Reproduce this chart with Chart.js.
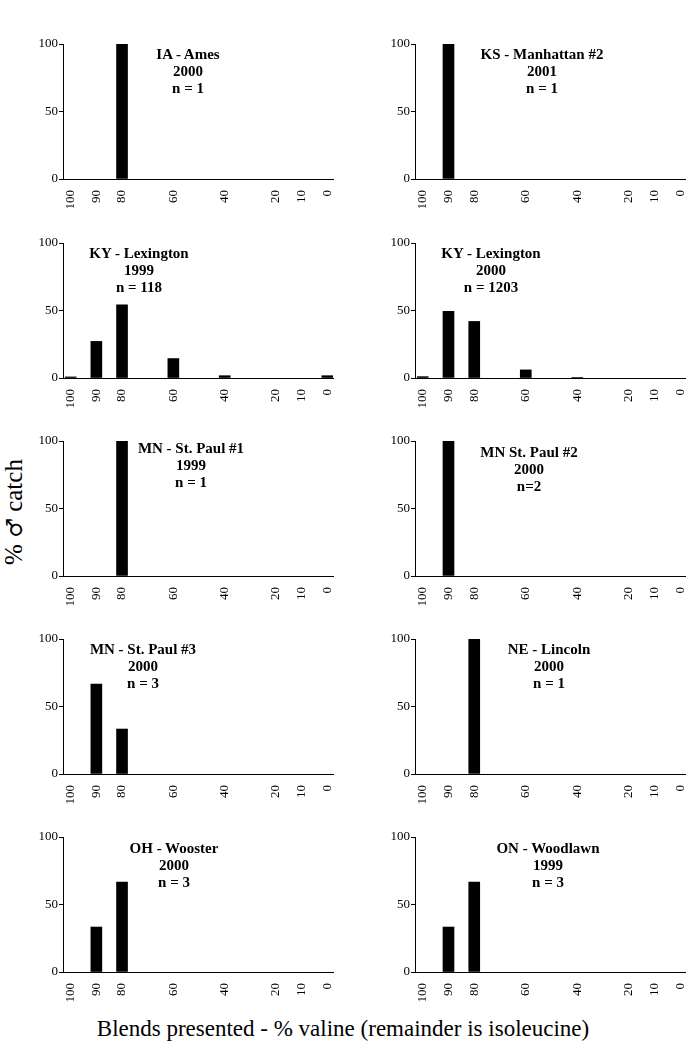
<!DOCTYPE html>
<html><head><meta charset="utf-8">
<script src="https://cdn.jsdelivr.net/npm/chart.js@4/dist/chart.umd.min.js"></script>
<style>
html,body{margin:0;padding:0;background:#fff;}
#page{position:relative;width:686px;height:1042px;overflow:hidden;font-family:"Liberation Serif","Times New Roman",serif;color:#000;}
canvas{position:absolute;}
.ttl{position:absolute;width:220px;margin-left:-110px;text-align:center;font-weight:bold;font-size:15px;line-height:17px;white-space:nowrap;}
#ytitle{position:absolute;left:14px;top:512px;transform:translate(-50%,-50%) rotate(-90deg);font-size:25px;white-space:nowrap;}
#ytitle .sym{font-family:"DejaVu Serif",serif;font-size:22px;}
#xtitle{position:absolute;left:343px;top:1029px;transform:translate(-50%,-50%);font-size:23px;white-space:nowrap;}
</style>
</head><body>
<div id="page">
  <div id="ytitle">% <span class="sym">♂</span> catch</div>
  <div id="xtitle">Blends presented - % valine (remainder is isoleucine)</div>
</div>
<script>
// ---- data ----
const blends = [100, 90, 80, 60, 40, 20, 10, 0];
const yTicks = [0, 50, 100];
const panelNames = ["IA - Ames", "KS - Manhattan #2", "KY - Lexington", "KY - Lexington", "MN - St. Paul #1",
                    "MN St. Paul #2", "MN - St. Paul #3", "NE - Lincoln", "OH - Wooster", "ON - Woodlawn"];
const panelYears = ["2000", "2001", "1999", "2000", "1999", "2000", "2000", "2000", "2000", "1999"];
const panelN = ["n = 1", "n = 1", "n = 118", "n = 1203", "n = 1", "n=2", "n = 3", "n = 1", "n = 3", "n = 3"];
const iaAmes2000      = [0, 0, 100, 0, 0, 0, 0, 0];
const ksManhattan2001 = [0, 100, 0, 0, 0, 0, 0, 0];
const kyLexington1999 = [0.8, 27.1, 54.2, 14.4, 1.7, 0, 0, 1.7];
const kyLexington2000 = [1.0, 49.4, 41.9, 6.0, 0.3, 0, 0, 0];
const mnStPaul1_1999  = [0, 0, 100, 0, 0, 0, 0, 0];
const mnStPaul2_2000  = [0, 100, 0, 0, 0, 0, 0, 0];
const mnStPaul3_2000  = [0, 66.7, 33.3, 0, 0, 0, 0, 0];
const neLincoln2000   = [0, 0, 100, 0, 0, 0, 0, 0];
const ohWooster2000   = [0, 33.3, 66.7, 0, 0, 0, 0, 0];
const onWoodlawn1999  = [0, 33.3, 66.7, 0, 0, 0, 0, 0];
const panelValues = [iaAmes2000, ksManhattan2001, kyLexington1999, kyLexington2000, mnStPaul1_1999,
                     mnStPaul2_2000, mnStPaul3_2000, neLincoln2000, ohWooster2000, onWoodlawn1999];

// ---- layout ----
const rowTops = [44, 243, 441, 639, 837];
const colLefts = [0, 343];
const yAxisW = [63, 72];
const padRight = [10, 0];
const titlePos = [[188,54],[542,54],[139,253],[491,253],[191,448],[529,452],[143,649],[549,649],[174,848],[548,848]];
const FONT = '"Liberation Serif","Times New Roman",serif';

const page = document.getElementById('page');
panelValues.forEach((vals, i) => {
  const row = Math.floor(i / 2), col = i % 2;
  const cv = document.createElement('canvas');
  cv.width = 343; cv.height = 185;
  cv.style.left = colLefts[col] + 'px';
  cv.style.top = (rowTops[row] - 10) + 'px';
  cv.style.width = '343px'; cv.style.height = '185px';
  page.appendChild(cv);

  const t = document.createElement('div');
  t.className = 'ttl';
  t.style.left = titlePos[i][0] + 'px';
  t.style.top = (titlePos[i][1] - 8.5) + 'px';
  t.innerHTML = panelNames[i] + '<br>' + panelYears[i] + '<br>' + panelN[i];
  page.appendChild(t);

  new Chart(cv, {
    type: 'bar',
    data: { datasets: [{
      data: blends.map((b, j) => ({ x: b, y: vals[j] > 0 ? vals[j] : null })),
      backgroundColor: '#000', borderWidth: 0, barThickness: 11
    }]},
    options: {
      responsive: false, animation: false, devicePixelRatio: 1,
      layout: { padding: { top: 10, right: padRight[col], left: 0, bottom: 0 } },
      plugins: { legend: { display: false }, tooltip: { enabled: false } },
      scales: {
        x: {
          type: 'linear', reverse: true, min: -2.2, max: 103, offset: false,
          grid: { display: false, offset: false },
          border: { display: true, color: '#000', width: 1 },
          afterBuildTicks: s => { s.ticks = blends.map(v => ({ value: v })); },
          ticks: { autoSkip: false, maxRotation: 90, minRotation: 90, padding: 3, color: '#000',
                   font: { family: FONT, size: 13 } },
          afterFit: s => { s.height = 40; s.paddingLeft = 0; s.paddingRight = 0; }
        },
        y: {
          min: 0, max: 100,
          afterBuildTicks: s => { s.ticks = yTicks.map(v => ({ value: v })); },
          grid: { drawOnChartArea: false, drawTicks: true, tickLength: 4, color: '#000' },
          border: { display: true, color: '#000', width: 1 },
          ticks: { padding: 1, color: '#000', font: { family: FONT, size: 13 } },
          afterFit: s => { s.width = yAxisW[col]; s.paddingTop = 0; s.paddingBottom = 0; }
        }
      }
    }
  });
});
</script>
</body></html>
